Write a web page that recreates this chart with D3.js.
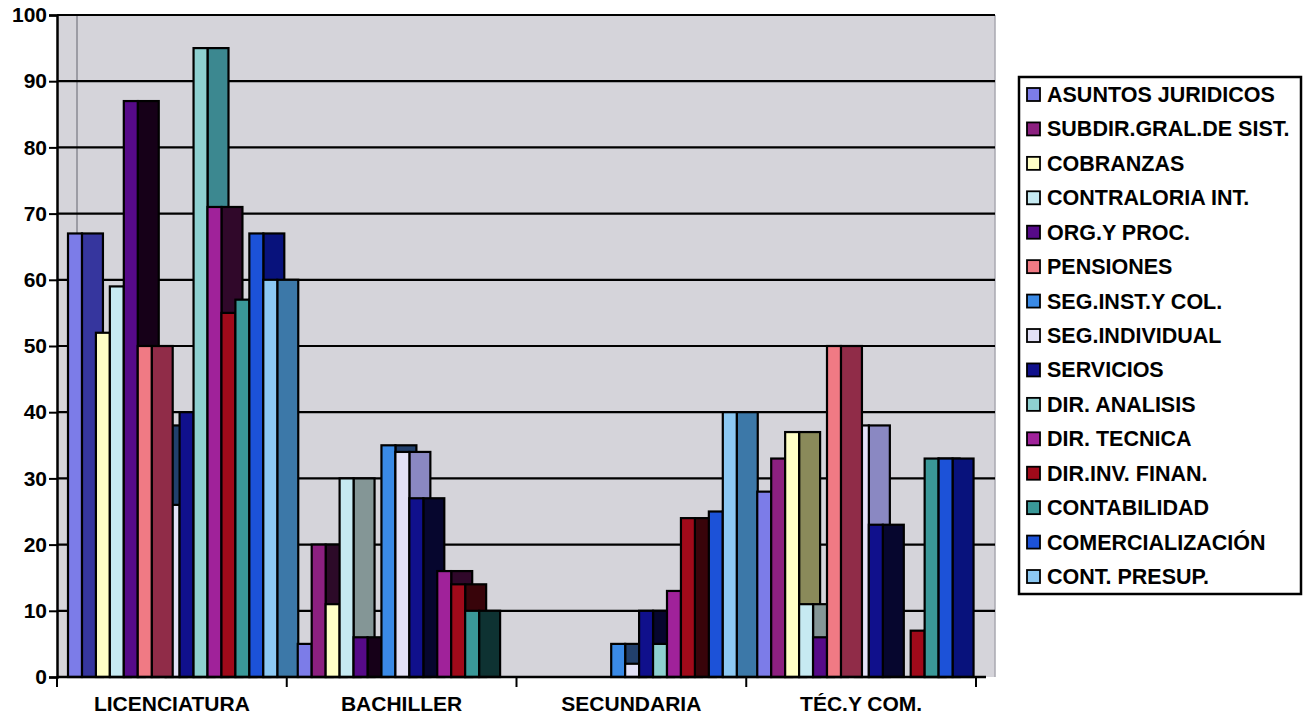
<!DOCTYPE html>
<html>
<head>
<meta charset="utf-8">
<script src="https://cdn.jsdelivr.net/npm/d3@7"></script>
<style>
  html, body { margin: 0; padding: 0; background: #ffffff; }
  svg { display: block; }
  text { font-family: "Liberation Sans", Arial, sans-serif; font-weight: bold; fill: #000; }
</style>
</head>
<body>
<svg id="chart" width="1307" height="715"></svg>
<script>
// ---------- DATA ----------
const categories = ["LICENCIATURA", "BACHILLER", "SECUNDARIA", "TÉC.Y COM."];
const seriesNames = [
  "ASUNTOS JURIDICOS", "SUBDIR.GRAL.DE SIST.", "COBRANZAS", "CONTRALORIA INT.",
  "ORG.Y PROC.", "PENSIONES", "SEG.INST.Y COL.", "SEG.INDIVIDUAL", "SERVICIOS",
  "DIR. ANALISIS", "DIR. TECNICA", "DIR.INV. FINAN.", "CONTABILIDAD",
  "COMERCIALIZACIÓN", "CONT. PRESUP."
];
const asuntosJuridicos = [67, 5, 0, 28];
const subdirGralSist   = [0, 20, 0, 33];
const cobranzas        = [52, 11, 0, 37];
const contraloriaInt   = [59, 30, 0, 11];
const orgYProc         = [87, 6, 0, 6];
const pensiones        = [50, 0, 0, 50];
const segInstYCol      = [38, 35, 5, 0];
const segIndividual    = [26, 34, 2, 38];
const servicios        = [40, 27, 10, 23];
const dirAnalisis      = [95, 0, 5, 0];
const dirTecnica       = [71, 16, 13, 0];
const dirInvFinan      = [55, 14, 24, 7];
const contabilidad     = [57, 10, 0, 33];
const comercializacion = [67, 0, 25, 33];
const contPresup       = [60, 0, 40, 0];
const yTicks = [0, 10, 20, 30, 40, 50, 60, 70, 80, 90, 100];

const seriesValues = [asuntosJuridicos, subdirGralSist, cobranzas, contraloriaInt, orgYProc,
  pensiones, segInstYCol, segIndividual, servicios, dirAnalisis, dirTecnica, dirInvFinan,
  contabilidad, comercializacion, contPresup];

// front face colour, side (shaded) face colour
const frontColors = ["#7c7ce8", "#8c2080", "#ffffc6", "#c6eaf2", "#560a88", "#f07a84", "#3a8ae6",
  "#e2e0f6", "#10108c", "#8ed0d0", "#a0229a", "#a00a1a", "#3a9898", "#1c52d8", "#8cc8f2"];
const sideColors  = ["#36369e", "#2c0a28", "#8a8a5a", "#849696", "#160018", "#902c48", "#22406c",
  "#8a88c2", "#06062e", "#3c8890", "#30082a", "#38040a", "#0e3232", "#08127c", "#3c78a8"];
// painter order observed in the original rendering
const drawOrder = [0, 1, 2, 3, 4, 6, 7, 5, 8, 9, 10, 11, 12, 13, 14];

// ---------- LAYOUT ----------
const svg = d3.select("#chart");
const plotLeft = 57, plotRight = 995, plotTop = 15, plotBottom = 677;
const catRight = 976;
const wallDepth = 20;
const sideDepth = 21;

const y = d3.scaleLinear().domain([0, 100]).range([plotBottom, plotTop]);
const xCat = d3.scaleBand().domain(categories).range([plotLeft, catRight]).padding(0);
const xSer = d3.scaleBand().domain(seriesNames).range([11, 11 + 15 * 13.95]).padding(0);

// plot background
svg.append("rect").attr("x", plotLeft).attr("y", plotTop)
  .attr("width", plotRight - plotLeft).attr("height", plotBottom - plotTop)
  .attr("fill", "#d5d4da");
// back wall corner line
svg.append("line").attr("x1", plotLeft + wallDepth).attr("x2", plotLeft + wallDepth)
  .attr("y1", plotTop).attr("y2", plotBottom).attr("stroke", "#9c9ca4").attr("stroke-width", 2);
// right edge
svg.append("line").attr("x1", plotRight).attr("x2", plotRight)
  .attr("y1", plotTop).attr("y2", plotBottom).attr("stroke", "#a8a8b0").attr("stroke-width", 1.5);

// gridlines
svg.append("g").selectAll("line").data(yTicks.filter(t => t > 0)).join("line")
  .attr("x1", plotLeft).attr("x2", plotRight)
  .attr("y1", d => y(d)).attr("y2", d => y(d))
  .attr("stroke", "#000").attr("stroke-width", 2.2);

// bars
const barsG = svg.append("g");
const bw = xSer.bandwidth();
categories.forEach((cat, ci) => {
  drawOrder.forEach(si => {
    const v = seriesValues[si][ci];
    if (!v) return;
    const x0 = xCat(cat) + xSer(seriesNames[si]);
    const g = barsG.append("g");
    g.append("rect").attr("x", x0 + bw).attr("y", y(v))
      .attr("width", sideDepth).attr("height", y(0) - y(v))
      .attr("fill", sideColors[si]).attr("stroke", "#000").attr("stroke-width", 2.2);
    g.append("rect").attr("x", x0).attr("y", y(v))
      .attr("width", bw).attr("height", y(0) - y(v))
      .attr("fill", frontColors[si]).attr("stroke", "#000").attr("stroke-width", 2.2);
  });
});

// y axis
const yAxis = d3.axisLeft(y).tickValues(yTicks).tickSize(8).tickPadding(2);
const yg = svg.append("g").attr("transform", `translate(${plotLeft},0)`).call(yAxis);
yg.select(".domain").attr("stroke", "#000").attr("stroke-width", 2.5);
yg.selectAll(".tick line").attr("stroke", "#000").attr("stroke-width", 2);
yg.selectAll(".tick text").style("font-size", "21px").style("font-weight", "bold")
  .style("font-family", "'Liberation Sans', Arial, sans-serif").attr("fill", "#000");

// x axis
svg.append("line").attr("x1", plotLeft).attr("x2", catRight + 10)
  .attr("y1", plotBottom).attr("y2", plotBottom).attr("stroke", "#000").attr("stroke-width", 2.5);
const boundaries = categories.map(c => xCat(c)).concat([xCat(categories[categories.length - 1]) + xCat.bandwidth()]);
svg.append("g").selectAll("line").data(boundaries).join("line")
  .attr("x1", d => d).attr("x2", d => d)
  .attr("y1", plotBottom).attr("y2", plotBottom + 10)
  .attr("stroke", "#000").attr("stroke-width", 2);
svg.append("g").selectAll("text").data(categories).join("text")
  .attr("x", d => xCat(d) + xCat.bandwidth() / 2)
  .attr("y", 711)
  .attr("text-anchor", "middle")
  .style("font-size", "21px")
  .text(d => d);

// legend
const lg = svg.append("g");
lg.append("rect").attr("x", 1019).attr("y", 77).attr("width", 282).attr("height", 517)
  .attr("fill", "#fff").attr("stroke", "#000").attr("stroke-width", 2.5);
const rowH = 34.43;
seriesNames.forEach((name, i) => {
  lg.append("rect").attr("x", 1027).attr("y", 88 + i * rowH).attr("width", 13).attr("height", 13)
    .attr("fill", frontColors[i]).attr("stroke", "#000").attr("stroke-width", 1.8);
  lg.append("text").attr("x", 1047).attr("y", 102 + i * rowH)
    .style("font-size", "21.5px").text(name);
});
</script>
</body>
</html>
